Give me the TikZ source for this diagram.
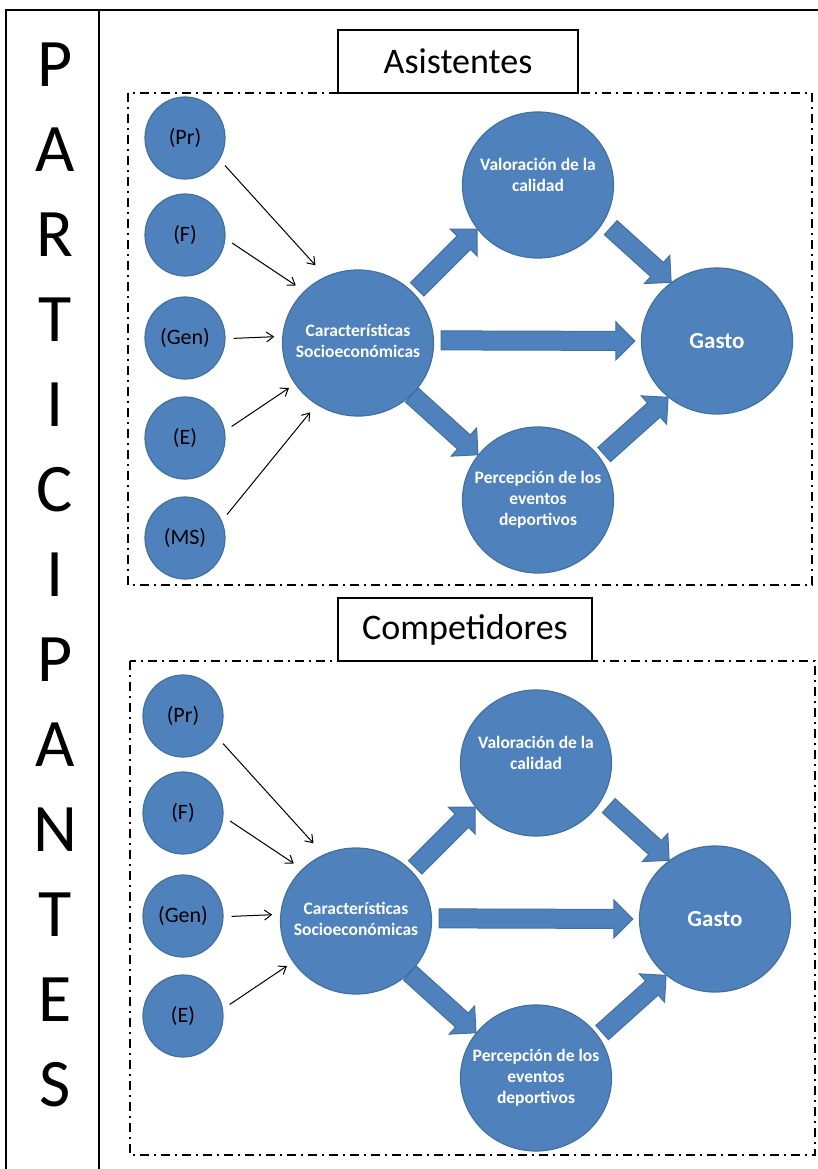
\documentclass[tikz,border=0pt]{standalone}
\usepackage{fontspec}
\setmainfont{Carlito}
\usetikzlibrary{shapes.geometric,calc,arrows.meta}

\definecolor{nodeblue}{HTML}{4F81BD}
\definecolor{nodeedge}{HTML}{41719C}

\tikzset{
  factor/.style={ellipse, fill=nodeblue, draw=nodeedge, line width=1.2pt,
    minimum width=80pt, minimum height=82pt, inner sep=0pt,
    font=\fontsize{22}{26}\selectfont, text=black},
  construct/.style={ellipse, fill=nodeblue, draw=nodeedge, line width=1.2pt,
    minimum width=151pt, minimum height=146pt, inner sep=0pt},
  intext/.style={text=white, font=\bfseries\fontsize{17.5}{21}\selectfont,
    align=center, inner sep=0pt},
  gastotext/.style={text=white, font=\bfseries\fontsize{23}{27}\selectfont, inner sep=0pt},
  thinarrow/.style={-{Straight Barb[length=7pt,width=10pt]}, line width=1pt, black},
  blockstyle/.style={fill=nodeblue, draw=nodeedge, line width=1pt, line join=miter},
  groupbox/.style={dash pattern=on 9pt off 5pt on 2pt off 5pt, line width=1.8pt},
  titlebox/.style={draw, line width=1.5pt, minimum height=63pt,
    font=\fontsize{36}{40}\selectfont, inner sep=0pt},
  sideletter/.style={font=\fontsize{68}{74}\selectfont, inner sep=0pt},
  framerule/.style={line width=2pt},
}

% wide arrow from #1 (tail) to #2 (tip)
\newcommand\blockarrow[2]{%
  \path (#1) coordinate (ba-t) (#2) coordinate (ba-h);
  \path ($(ba-h)!19pt!(ba-t)$) coordinate (ba-b);
  \draw[blockstyle] ($(ba-t)!9.5pt!90:(ba-h)$) -- ($(ba-b)!9.5pt!-90:(ba-t)$)
    -- ($(ba-b)!19pt!-90:(ba-t)$) -- (ba-h) -- ($(ba-b)!19pt!90:(ba-t)$)
    -- ($(ba-b)!9.5pt!90:(ba-t)$) -- ($(ba-t)!9.5pt!-90:(ba-h)$) -- cycle;
}

% one model: factors, socio-economic profile, quality, perception, spending
\newcommand\modelpanel[1]{%
  \node[factor] (#1pr)  at (185,138) {(Pr)};
  \node[factor] (#1f)   at (185,235) {(F)};
  \node[factor] (#1gen) at (185,338) {(Gen)};
  \node[factor] (#1e)   at (185,438) {(E)};
  \node[construct] (#1car) at (358,343) {};
  \node[intext] (#1cart) at ([yshift=2pt]#1car.center) {Características\\Socioeconómicas};
  \node[construct] (#1val) at (538,185) {};
  \node[intext] (#1valt) at ([yshift=10pt]#1val.center) {Valoración de la\\calidad};
  \node[construct] (#1gas) at (717,341) {};
  \node[gastotext] (#1gast) at (#1gas.center) {Gasto};
  \node[construct] (#1per) at (538,500) {};
  \node[intext] (#1pert) at (#1per.center) {Percepción de los\\eventos\\deportivos};
  \draw[thinarrow, shorten <=8pt, shorten >=15pt] (#1pr.-32) -- (#1car.116);
  \draw[thinarrow, shorten <=8pt, shorten >=10pt] (#1f.-5) -- (#1car.136);
  \draw[thinarrow, shorten <=8pt, shorten >=8pt] (#1gen.-1) -- (#1car.175);
  \draw[thinarrow, shorten <=8pt, shorten >=7pt] (#1e.10) -- (#1car.213);
  \blockarrow{$(#1car.42)!5pt!(#1val.216)$}{#1val.216}
  \blockarrow{$(#1val.-29)!9pt!(#1gas.128)$}{#1gas.128}
  \blockarrow{$(#1car.2)!7pt!(#1gas.180)$}{$(#1gas.180)!6pt!(#1car.2)$}
  \blockarrow{#1car.-44.5}{#1per.143}
  \blockarrow{$(#1per.34)!5pt!(#1gas.229)$}{#1gas.229}
}

\begin{document}
\begin{tikzpicture}[x=1pt, y=-1pt]
  \useasboundingbox (0,0) rectangle (818,1169);

  % outer frame and side column
  \draw[framerule] (6,1169) -- (6,10) -- (818,10);
  \draw[framerule] (99,10) -- (99,1169);
  \foreach \l [count=\i from 0] in {P,A,R,T,I,C,I,P,A,N,T,E,S}
    \node[sideletter] (side\i) at (55,65+85*\i) {\l};

  % spectators
  \draw[groupbox] (128,93) rectangle (812,585);
  \node[titlebox, minimum width=240pt] (titleA) at (458,61.5) {Asistentes};
  \modelpanel{a}
  \node[factor] (ams) at (185,538) {(MS)};
  \draw[thinarrow, shorten <=8pt, shorten >=10pt] (ams.25) -- (acar.236);

  % competitors
  \draw[groupbox] (130,661) rectangle (815,1155);
  \node[titlebox, minimum width=254pt] (titleB) at (465,629.5) {Competidores};
  \begin{scope}[shift={(-2,578)}]
    \modelpanel{b}
  \end{scope}
\end{tikzpicture}
\end{document}
